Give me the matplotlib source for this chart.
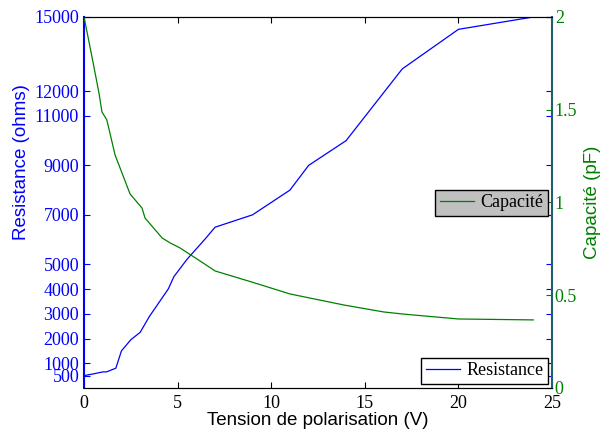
import matplotlib
matplotlib.use('Agg')
import matplotlib.pyplot as plt

# Resistance (ohms) vs tension de polarisation (V)
v_res = [0, 0.5, 1.0, 1.2, 1.7, 2.0, 2.5, 3.0, 3.5, 4.0, 4.5, 4.8, 5.5, 6.5, 7.0, 9.0, 11.0, 12.0, 14.0, 17.0, 20.0, 24.0]
resistance = [500, 570, 650, 650, 800, 1500, 1950, 2250, 2900, 3450, 4000, 4500, 5200, 6050, 6500, 7000, 8000, 9000, 10000, 12900, 14500, 15000]

# Capacite (pF)
v_cap = [0, 0.2, 0.48, 0.8, 0.96, 1.22, 1.66, 2.03, 2.46, 3.1, 3.26, 4.17, 4.6, 5.13, 6.36, 7.0, 9.0, 11.0, 13.9, 16.0, 17.0, 18.0, 20.0, 24.0]
capacite = [2.0, 1.9, 1.757, 1.59, 1.488, 1.445, 1.256, 1.159, 1.046, 0.97, 0.916, 0.809, 0.782, 0.755, 0.674, 0.631, 0.57, 0.507, 0.447, 0.41, 0.399, 0.39, 0.372, 0.367]

res_ticks = [500, 1000, 2000, 3000, 4000, 5000, 7000, 9000, 11000, 12000, 15000]
cap_ticks = [0, 0.5, 1, 1.5, 2]
x_ticks = [0, 5, 10, 15, 20, 25]

serif = 'Liberation Serif'
sans = 'Liberation Sans'
teal = '#1f5f6f'

fig = plt.figure(figsize=(6, 4.3), dpi=100)
ax1 = fig.add_axes([0.14, 0.0977, 0.78, 0.8628])
ax2 = ax1.twinx()

l1, = ax1.plot(v_res, resistance, color='blue', linewidth=0.9, label='Resistance')
l2, = ax2.plot(v_cap, capacite, color='green', linewidth=0.9, label='Capacité')

ax1.set_xlim(0, 25)
ax1.set_ylim(0, 15000)
ax2.set_ylim(0, 2)

ax1.set_xticks(x_ticks)
ax1.set_yticks(res_ticks)
ax2.set_yticks(cap_ticks)
ax2.set_yticklabels(['0', '0.5', '1', '1.5', '2'])

ax1.tick_params(axis='x', direction='in', top=True, bottom=True, colors='black', length=4, labelsize=13, pad=5)
ax1.tick_params(axis='y', direction='in', left=True, right=True, colors='blue', length=4, labelsize=13, labelright=False)
ax2.tick_params(axis='y', direction='in', colors='green', length=4, labelsize=13, pad=2)
for lab in ax1.get_xticklabels() + ax1.get_yticklabels() + ax2.get_yticklabels():
    lab.set_fontfamily(serif)

ax1.spines['left'].set_color('blue')
ax1.spines['left'].set_linewidth(1.5)
ax1.spines['right'].set_visible(False)
ax2.spines['left'].set_visible(False)
ax2.spines['right'].set_color(teal)
ax2.spines['right'].set_linewidth(1.5)
ax2.spines['top'].set_color('black')
ax2.spines['bottom'].set_color('black')

ax1.set_xlabel('Tension de polarisation (V)', fontsize=13.5, family=sans, labelpad=0)
ax1.set_ylabel('Resistance (ohms)', fontsize=13.5, family=sans, color='blue', labelpad=4)
ax1.yaxis.set_label_coords(-0.115, 0.61)
ax2.set_ylabel('Capacité (pF)', fontsize=13.5, family=sans, color='green', labelpad=5)

leg2 = ax2.legend(handles=[l2], loc='lower right', bbox_to_anchor=(0.991, 0.464), borderaxespad=0,
                  fancybox=False, edgecolor='black', facecolor='#c0c0c0', framealpha=1,
                  prop={'family': serif, 'size': 13}, handlelength=1.9, handletextpad=0.35,
                  borderpad=0.25)
leg1 = ax2.legend(handles=[l1], loc='lower right', bbox_to_anchor=(0.991, 0.011), borderaxespad=0,
                  fancybox=False, edgecolor='black', facecolor='white', framealpha=1,
                  prop={'family': serif, 'size': 13}, handlelength=1.9, handletextpad=0.35,
                  borderpad=0.25)
ax2.add_artist(leg2)

fig.savefig('out.png', dpi=100)
